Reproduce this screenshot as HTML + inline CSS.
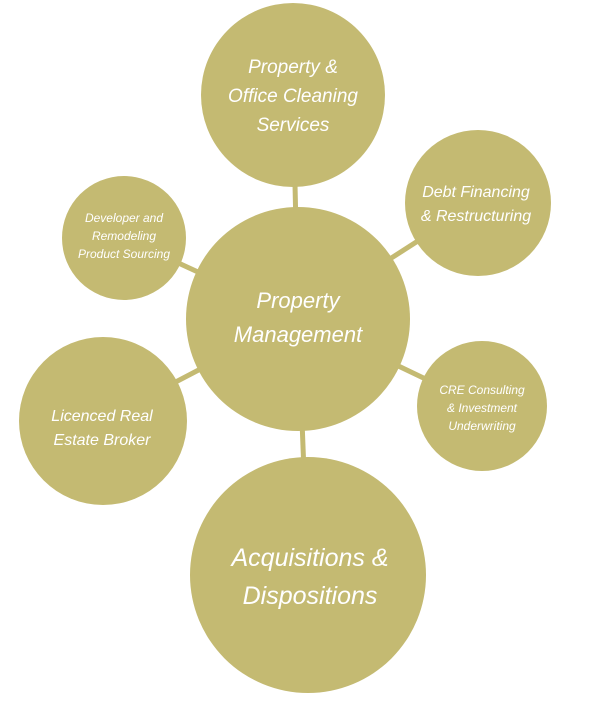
<!DOCTYPE html>
<html><head><style>
body{margin:0;background:#fff;}
svg text{font-family:"Liberation Sans",sans-serif;font-style:italic;fill:#fff;text-anchor:middle;}
</style></head><body>
<svg width="600" height="700" viewBox="0 0 600 700" xmlns="http://www.w3.org/2000/svg">
<g stroke="#c4ba72" stroke-width="5">
<line x1="298" y1="318" x2="293" y2="95"/>
<line x1="298" y1="318" x2="477" y2="203"/>
<line x1="298" y1="318" x2="124" y2="238"/>
<line x1="298" y1="318" x2="482" y2="406"/>
<line x1="298" y1="318" x2="103" y2="420"/>
<line x1="298" y1="318" x2="308" y2="575"/>
</g>
<g fill="#c4ba72">
<circle cx="298" cy="319" r="112"/>
<circle cx="293" cy="95" r="92"/>
<circle cx="478" cy="203" r="73"/>
<circle cx="124" cy="238" r="62"/>
<circle cx="482" cy="406" r="65"/>
<circle cx="103" cy="421" r="84"/>
<circle cx="308" cy="575" r="118"/>
</g>
<text font-size="22"><tspan x="298" y="308">Property</tspan><tspan x="298" y="342">Management</tspan></text>
<text font-size="19"><tspan x="293" y="73">Property &amp;</tspan><tspan x="293" y="102">Office Cleaning</tspan><tspan x="293" y="131">Services</tspan></text>
<text font-size="16"><tspan x="476" y="197">Debt Financing</tspan><tspan x="476" y="221">&amp; Restructuring</tspan></text>
<text font-size="12"><tspan x="124" y="222">Developer and</tspan><tspan x="124" y="240">Remodeling</tspan><tspan x="124" y="258">Product Sourcing</tspan></text>
<text font-size="12"><tspan x="482" y="394">CRE Consulting</tspan><tspan x="482" y="412">&amp; Investment</tspan><tspan x="482" y="430">Underwriting</tspan></text>
<text font-size="16"><tspan x="102" y="421">Licenced Real</tspan><tspan x="102" y="445">Estate Broker</tspan></text>
<text font-size="25"><tspan x="310" y="566">Acquisitions &amp;</tspan><tspan x="310" y="604">Dispositions</tspan></text>
</svg>
</body></html>
